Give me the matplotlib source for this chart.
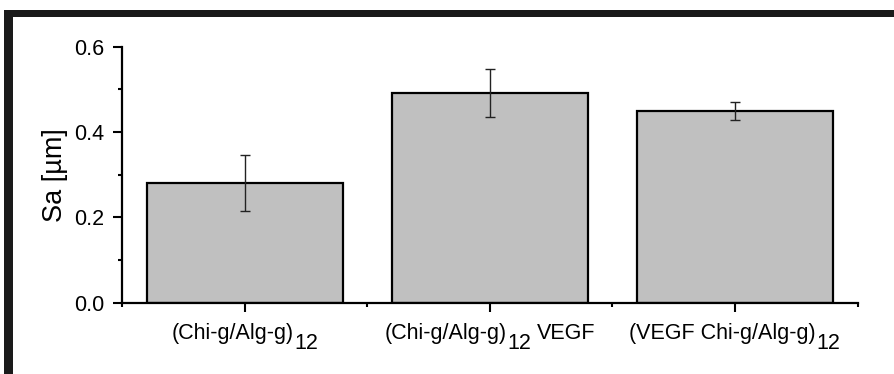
import matplotlib
matplotlib.use('Agg')
import matplotlib.pyplot as plt
from matplotlib.patches import Rectangle
from matplotlib.ticker import FixedLocator, FormatStrFormatter
from matplotlib.offsetbox import TextArea, HPacker, VPacker, DrawingArea, AnnotationBbox

plt.rcParams['font.family'] = ['Liberation Sans', 'DejaVu Sans']

# data
positions = [1, 2, 3]
sa_mean = [0.280, 0.492, 0.450]
sa_err = [0.066, 0.056, 0.021]
# label pieces: (text, is_subscript)
labels = [
    [('(Chi-g/Alg-g)', False), ('12', True)],
    [('(Chi-g/Alg-g)', False), ('12', True), ('VEGF', False)],
    [('(VEGF Chi-g/Alg-g)', False), ('12', True)],
]
y_major = [0.0, 0.2, 0.4, 0.6]
y_minor = [0.1, 0.3, 0.5]
x_minor = [0.5, 1.5, 2.5, 3.5]

FS = 15.5

fig = plt.figure(figsize=(8.94, 3.74), dpi=100)
ax = fig.add_axes([122 / 894, 1 - 302.7 / 374, (857.7 - 122) / 894, (302.7 - 46.7) / 374])

ax.bar(positions, sa_mean, width=0.8, color='#c0c0c0', edgecolor='black', linewidth=1.6,
       yerr=sa_err, error_kw=dict(ecolor='#222222', elinewidth=1.0, capsize=3.8, capthick=1.0),
       zorder=2)

ax.set_xlim(0.5, 3.5)
ax.set_ylim(0, 0.6)
for s in ['top', 'right']:
    ax.spines[s].set_visible(False)
for s in ['left', 'bottom']:
    ax.spines[s].set_linewidth(1.6)
    ax.spines[s].set_color('black')

ax.yaxis.set_major_locator(FixedLocator(y_major))
ax.yaxis.set_minor_locator(FixedLocator(y_minor))
ax.yaxis.set_major_formatter(FormatStrFormatter('%.1f'))
ax.xaxis.set_major_locator(FixedLocator(positions))
ax.xaxis.set_minor_locator(FixedLocator(x_minor))
ax.set_xticklabels([''] * len(positions))

ax.tick_params(axis='both', which='major', direction='out', length=6.5, width=1.5,
               labelsize=FS, pad=6.0, colors='black')
ax.tick_params(axis='both', which='minor', direction='out', length=3.2, width=1.5)

ax.set_ylabel('Sa [µm]', fontsize=19.5)
ax.yaxis.set_label_coords(-0.074, 0.5)

# x labels with full-size lowered subscripts
for x, parts in zip(positions, labels):
    kids = []
    for i, (txt, sub) in enumerate(parts):
        ta = TextArea(txt, textprops=dict(fontsize=FS, color='black'))
        if sub:
            ta = VPacker(children=[DrawingArea(1, 7.0), ta], pad=0, sep=0, align='left')
        elif i > 0:
            kids.append(DrawingArea(3.5, 1))
        kids.append(ta)
    box = HPacker(children=kids, align='top', pad=0, sep=0.5)
    ab = AnnotationBbox(box, (x, 0), xycoords=ax.get_xaxis_transform(),
                        xybox=(0, -14.5), boxcoords='offset points',
                        box_alignment=(0.5, 1), frameon=False, pad=0,
                        annotation_clip=False)
    ax.add_artist(ab)

# black frame bits along top and left edge of the image
fig.add_artist(Rectangle((4 / 894, 1 - 17 / 374), 1, 7 / 374, transform=fig.transFigure,
                         color='#1a1a1a', lw=0))
fig.add_artist(Rectangle((4 / 894, 0), 8.5 / 894, 1 - 10 / 374, transform=fig.transFigure,
                         color='#1a1a1a', lw=0))

fig.savefig('out.png', dpi=100)
